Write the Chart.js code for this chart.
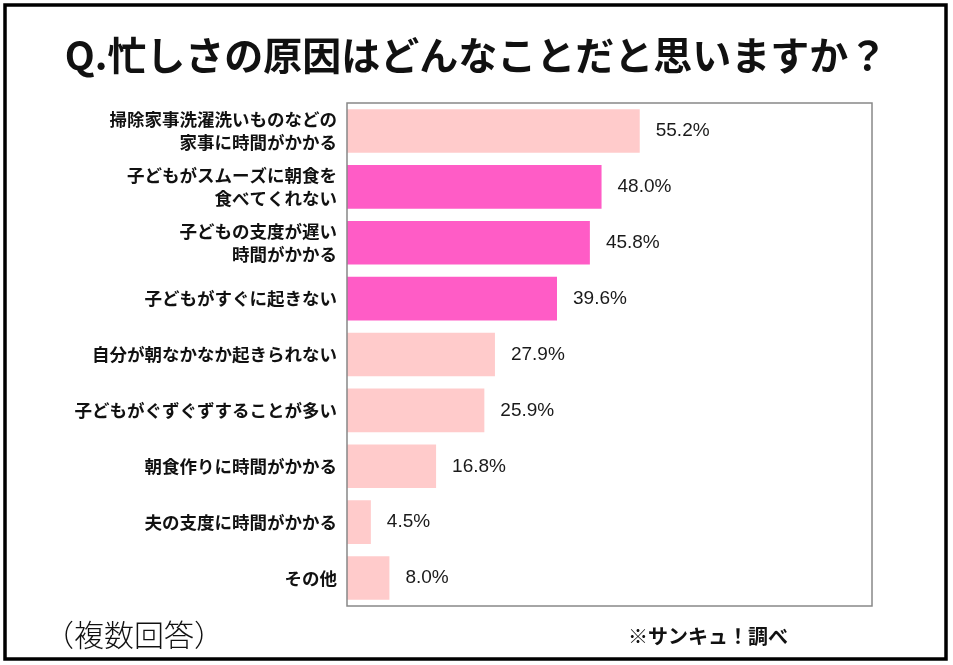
<!DOCTYPE html>
<html>
<head>
    <title>忙しさの原因</title>
    <script src="https://cdn.jsdelivr.net/npm/chart.js"></script>
    <style>
        html, body { margin: 0; padding: 0; background: #fff; }
        #wrap { position: relative; width: 953px; height: 665px; }
    </style>
</head>
<body>
    <div id="wrap">
        <canvas id="myChart" width="953" height="665"></canvas>
    </div>
    <script>
        // data
        var categories = [
            ['掃除家事洗濯洗いものなどの', '家事に時間がかかる'],
            ['子どもがスムーズに朝食を', '食べてくれない'],
            ['子どもの支度が遅い', '時間がかかる'],
            '子どもがすぐに起きない',
            '自分が朝なかなか起きられない',
            '子どもがぐずぐずすることが多い',
            '朝食作りに時間がかかる',
            '夫の支度に時間がかかる',
            'その他'
        ];
        var values = [55.2, 48.0, 45.8, 39.6, 27.9, 25.9, 16.8, 4.5, 8.0];
        var highlighted = [false, true, true, true, false, false, false, false, false];

        var titleText = 'Q.忙しさの原因はどんなことだと思いますか？';
        var noteText = '（複数回答）';
        var sourceText = '※サンキュ！調べ';

        var lightPink = '#FFCBCB';
        var hotPink = '#FF5CC6';
        var jpFont = "'Noto Sans CJK JP', 'Noto Sans', sans-serif";

        // frame, title, plot box and footer texts
        var decorations = {
            id: 'decorations',
            beforeDraw: function(chart) {
                var ctx = chart.ctx;
                ctx.save();
                ctx.fillStyle = '#fff';
                ctx.fillRect(0, 0, chart.width, chart.height);
                ctx.restore();
            },
            afterDraw: function(chart) {
                var ctx = chart.ctx;
                var a = chart.chartArea;
                ctx.save();
                // outer frame
                ctx.strokeStyle = '#000';
                ctx.lineWidth = 3.5;
                ctx.strokeRect(5, 5, 941, 654);
                // plot box
                ctx.strokeStyle = '#888';
                ctx.lineWidth = 1.5;
                ctx.strokeRect(a.left, a.top, a.right - a.left, a.bottom - a.top);
                // title
                ctx.fillStyle = '#111';
                ctx.textAlign = 'center';
                ctx.textBaseline = 'middle';
                ctx.font = "bold 39px " + jpFont;
                ctx.fillText(titleText, 476, 55);
                // footer
                ctx.textAlign = 'left';
                ctx.font = "300 30px " + jpFont;
                ctx.fillText(noteText, 44, 635);
                ctx.font = "bold 20px " + jpFont;
                ctx.fillText(sourceText, 628, 636);
                ctx.restore();
            }
        };

        // value labels next to each bar
        var valueLabels = {
            id: 'valueLabels',
            afterDatasetsDraw: function(chart) {
                var ctx = chart.ctx;
                var meta = chart.getDatasetMeta(0);
                ctx.save();
                ctx.fillStyle = '#1a1a1a';
                ctx.font = "19px 'Liberation Sans', Arial, sans-serif";
                ctx.textAlign = 'left';
                ctx.textBaseline = 'middle';
                meta.data.forEach(function(bar, i) {
                    ctx.fillText(values[i].toFixed(1) + '%', bar.x + 16, bar.y);
                });
                ctx.restore();
            }
        };

        var ctx = document.getElementById('myChart').getContext('2d');
        var chart = new Chart(ctx, {
            type: 'bar',
            data: {
                labels: categories,
                datasets: [{
                    data: values,
                    backgroundColor: highlighted.map(function(h) { return h ? hotPink : lightPink; }),
                    borderWidth: 0,
                    barPercentage: 0.78,
                    categoryPercentage: 1.0
                }]
            },
            options: {
                indexAxis: 'y',
                responsive: false,
                animation: false,
                layout: { padding: { top: 103, right: 81, bottom: 59, left: 0 } },
                plugins: {
                    legend: { display: false },
                    tooltip: { enabled: false }
                },
                scales: {
                    x: {
                        display: false,
                        min: 0,
                        max: 99
                    },
                    y: {
                        grid: { display: false, drawTicks: false },
                        border: { display: false },
                        ticks: {
                            color: '#111',
                            padding: 10,
                            font: { family: jpFont, size: 17.5, weight: 'bold', lineHeight: 1.35 }
                        },
                        afterFit: function(scale) { scale.width = 347; }
                    }
                }
            },
            plugins: [decorations, valueLabels]
        });
    </script>
</body>
</html>
